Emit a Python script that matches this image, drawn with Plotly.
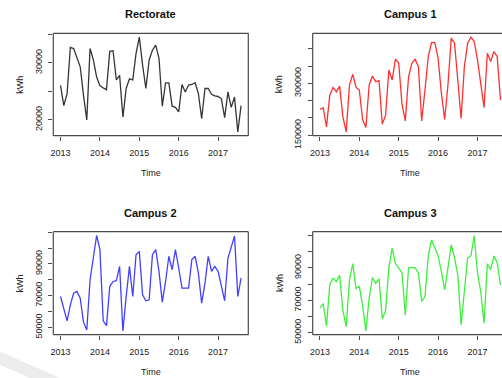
import plotly.graph_objects as go

# ---- data (monthly, Jan 2013 .. Aug 2017) ----
start_year = 2013
n_months = 56
year_ticks = [2013, 2014, 2015, 2016, 2017]
year_labels = ["2013", "2014", "2015", "2016", "2017"]

rectorate = [26060, 22500, 24600, 32700, 32500, 30800, 29300, 24300, 20000, 32500,
             30500, 27500, 26000, 25600, 25300, 32000, 32100, 27000, 27800, 20500,
             25500, 27200, 27000, 31600, 34500, 29600, 25500, 30500, 32200, 33100,
             30800, 22400, 26500, 26500, 22400, 22200, 21400, 26200, 24900, 26100,
             26200, 26500, 24600, 20200, 25500, 25500, 24500, 24200, 24100, 23700,
             20400, 24900, 22200, 24000, 17900, 22500]
campus1 = [225500, 229000, 174000, 266000, 288000, 275700, 292000, 203000, 159600, 295000,
           326000, 288000, 280600, 195500, 172300, 295000, 321000, 304700, 307600, 182000,
           208000, 338600, 309600, 369700, 358000, 240000, 191500, 319000, 358000, 369700,
           348000, 191500, 280600, 377000, 417800, 418000, 372500, 271000, 195500, 295000,
           430600, 416000, 309600, 198500, 348000, 416000, 433500, 420800, 367600, 290000,
           230000, 387000, 362700, 391700, 377200, 251600]
campus2 = [69400, 62000, 54000, 64100, 71500, 72600, 68400, 53200, 48300, 80000,
           93700, 107900, 99000, 54000, 51000, 75700, 78900, 79400, 88400, 47700,
           69400, 88400, 69400, 95800, 97900, 70500, 66700, 67300, 95800, 99000,
           85300, 65800, 78900, 94800, 86300, 99000, 87400, 74700, 74700, 74700,
           92700, 94800, 84200, 65200, 77900, 94800, 85300, 88400, 85300, 76800,
           66700, 93700, 100100, 107500, 69400, 81000]
campus3 = [65100, 67900, 54200, 79400, 83600, 81500, 85300, 63700, 53800, 82600,
           92500, 77300, 78400, 66800, 51100, 71400, 84000, 80500, 83200, 58400,
           63700, 89900, 102100, 92500, 89900, 86800, 61000, 89900, 90300, 89900,
           86800, 69300, 72100, 97300, 107200, 102100, 97300, 87800, 76300, 89900,
           104200, 96200, 85700, 54700, 77300, 96200, 97300, 109900, 86800, 75200,
           55900, 92500, 88900, 97300, 93100, 79400]

titles = ["Rectorate", "Campus 1", "Campus 2", "Campus 3"]
colors = ["#353535", "#ff3030", "#4040ff", "#3cf03c"]

y_ticks = [
    ([20000, 25000, 30000, 35000], ["20000", "", "30000", ""]),
    ([150000, 200000, 250000, 300000, 350000, 400000], ["150000", "", "", "300000", "", ""]),
    ([50000, 60000, 70000, 80000, 90000, 100000, 110000], ["50000", "", "70000", "", "90000", "", ""]),
    ([50000, 60000, 70000, 80000, 90000, 100000, 110000], ["50000", "", "70000", "", "90000", "", ""]),
]

time = [start_year + i / 12 for i in range(n_months)]
series = [rectorate, campus1, campus2, campus3]

W, H = 502, 378
# panel boxes in pixels: (left, right, top, bottom)
boxes = [(53.3, 248.3, 33.3, 135.7), (312.7, 502, 33.3, 135.7),
         (53.3, 248.3, 231.7, 334.7), (312.7, 502, 231.7, 334.7)]

FONT = "Liberation Sans, Arial, sans-serif"
TXT = "#222222"
FRAME = "#4a4a4a"

fig = go.Figure()
layout = dict(width=W, height=H, margin=dict(l=0, r=0, t=0, b=0, autoexpand=False),
              paper_bgcolor="white", plot_bgcolor="white", showlegend=False,
              font=dict(family=FONT, color=TXT))
annotations = []
shapes = []

t0, t1 = time[0], time[-1]
xr0 = t0 - 0.04 * (t1 - t0)
xr1_full = t1 + 0.04 * (t1 - t0)
px_per_year = (boxes[0][1] - boxes[0][0]) / (xr1_full - xr0)


def label(text, xpx, ypx, size, color, angle=0):
    return dict(text=text, x=xpx / W, y=1 - ypx / H, xref="paper", yref="paper",
                xanchor="center", yanchor="middle", showarrow=False, textangle=angle,
                font=dict(size=size, color=color))


for k in range(4):
    s = "" if k == 0 else str(k + 1)
    l, r, t, b = boxes[k]
    xr1 = xr0 + (r - l) / px_per_year
    ymin, ymax = min(series[k]), max(series[k])
    yr = [ymin - 0.04 * (ymax - ymin), ymax + 0.04 * (ymax - ymin)]
    fig.add_trace(go.Scatter(x=time, y=series[k], mode="lines",
                             line=dict(color=colors[k], width=1.3),
                             xaxis="x" + s, yaxis="y" + s, hoverinfo="skip"))
    layout["xaxis" + s] = dict(domain=[l / W, r / W], range=[xr0, xr1], automargin=False,
                               anchor="y" + s, tickvals=year_ticks, ticktext=year_labels,
                               ticks="outside", ticklen=4, tickcolor=FRAME,
                               showgrid=False, zeroline=False, showline=False,
                               tickfont=dict(size=9, color=TXT), ticklabelstandoff=4)
    layout["yaxis" + s] = dict(domain=[1 - b / H, 1 - t / H], range=yr, automargin=False,
                               anchor="x" + s, tickvals=y_ticks[k][0], ticktext=y_ticks[k][1],
                               ticks="outside", ticklen=4, tickcolor=FRAME, tickangle=-90,
                               showgrid=False, zeroline=False, showline=False,
                               tickfont=dict(size=9, color=TXT), ticklabelstandoff=3)
    # frame
    xd, yd = "x" + s + " domain", "y" + s + " domain"
    lines = [(0, 0, 0, 1), (0, 1, 1, 1), (0, 0, 1, 0)]
    if r < W:
        lines.append((1, 0, 1, 1))
    for (x0, y0, x1, y1) in lines:
        shapes.append(dict(type="line", xref=xd, yref=yd, x0=x0, y0=y0, x1=x1, y1=y1,
                           line=dict(color=FRAME, width=1.2)))
    cx = l + 97.5
    annotations.append(label("<b>" + titles[k] + "</b>", cx, t - 19, 11, "#111111"))
    annotations.append(label("Time", cx, b + 37.5, 9, TXT))
    annotations.append(label("kWh", l - 33, (t + b) / 2, 9, TXT, -90))

# faint page shadow in the lower-left corner
shapes.append(dict(type="path", xref="paper", yref="paper", layer="below",
                   path="M 0,0.07 L 0,0.035 L 0.06,0 L 0.12,0 Z",
                   fillcolor="#ececec", line=dict(width=0)))

layout["annotations"] = annotations
layout["shapes"] = shapes
fig.update_layout(**layout)
fig.write_html("out.html", config={"displayModeBar": False},
               post_script="document.body.style.margin='0';"
                           "document.body.style.overflow='hidden';")
